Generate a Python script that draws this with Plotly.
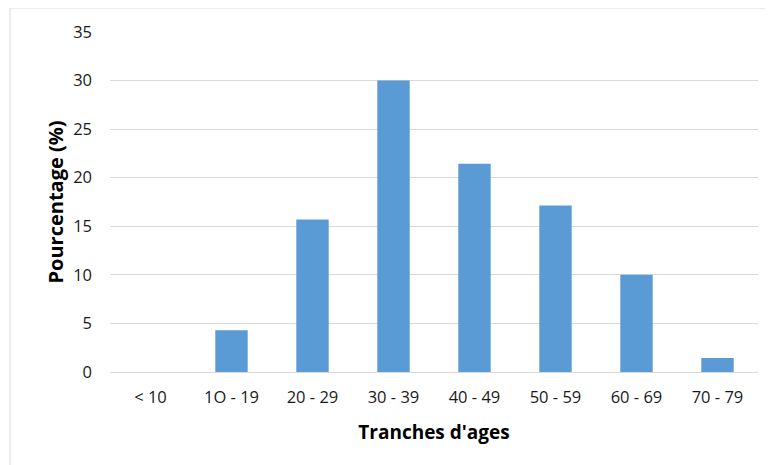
import plotly.graph_objects as go

categories = ["< 10", "1O - 19", "20 - 29", "30 - 39", "40 - 49", "50 - 59", "60 - 69", "70 - 79"]
percentages = [0, 4.29, 15.71, 30.0, 21.43, 17.14, 10.0, 1.43]
y_ticks = [0, 5, 10, 15, 20, 25, 30, 35]

FONT = "Open Sans"

fig = go.Figure(
    go.Bar(
        x=categories,
        y=percentages,
        marker=dict(color="#5b9bd5", line=dict(width=0)),
        width=0.4,
    )
)

fig.update_layout(
    width=773,
    height=465,
    margin=dict(l=102, r=23, t=24, b=101),
    paper_bgcolor="white",
    plot_bgcolor="white",
    showlegend=False,
    font=dict(family=FONT, size=16, color="#1a1a1a"),
    shapes=[
        dict(
            type="rect", xref="paper", yref="paper",
            x0=-0.1543, x1=1.2, y0=-0.5, y1=1.0706,
            line=dict(color="#d9d9d9", width=1), fillcolor="rgba(0,0,0,0)",
            layer="below",
        )
    ],
)

fig.update_xaxes(
    type="category",
    showgrid=False,
    showline=True,
    linecolor="#d9d9d9",
    linewidth=1,
    ticks="",
    ticklabelstandoff=10,
    tickfont=dict(family=FONT, size=16.5, color="#1a1a1a"),
    title=dict(text="<b>Tranches d'ages</b>", font=dict(family=FONT, size=19, color="#000000"), standoff=18),
)

fig.update_yaxes(
    range=[0, 35],
    tickvals=y_ticks,
    showgrid=True,
    gridcolor="#d9d9d9",
    gridwidth=1,
    zeroline=False,
    showline=False,
    ticks="",
    ticklabelstandoff=17,
    tickfont=dict(family=FONT, size=16.5, color="#1a1a1a"),
    title=dict(text="<b>Pourcentage (%)</b>", font=dict(family=FONT, size=20, color="#000000"), standoff=4),
)

fig.write_html("out.html")
